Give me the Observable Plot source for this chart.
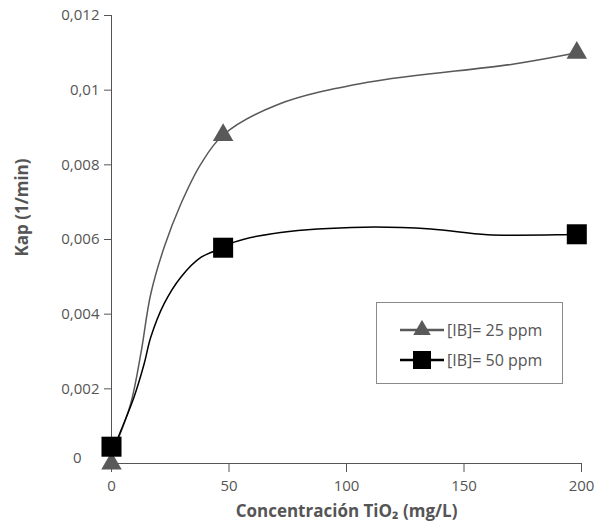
<!DOCTYPE html>
<html>
<head>
<meta charset="utf-8">
<script src="https://cdn.jsdelivr.net/npm/d3@7"></script>
<script src="https://cdn.jsdelivr.net/npm/@observablehq/plot@0.6"></script>
<style>
  html, body { margin: 0; padding: 0; background: #fff; }
  #wrap { position: relative; width: 600px; height: 525px; font-family: "Open Sans", sans-serif; }
  #wrap svg g[aria-label$="tick label"] { font-size: 15px !important; }
  #legend { position: absolute; left: 376px; top: 302px; width: 185px; height: 80px; border: 1px solid #8a8a8a; background: #fff; }
  .item { position: absolute; left: 23px; height: 20px; display: flex; align-items: center; font-family: "Open Sans", sans-serif; font-size: 16px; color: #555; }
  .item svg { display: block; margin-right: 3px; }
</style>
</head>
<body>
<div id="wrap"></div>
<script>
// ---- data ----
const seriesNames = ["[IB]= 25 ppm", "[IB]= 50 ppm"];
const seriesColors = ["#595959", "#000000"];
const xTicks = [0, 50, 100, 150, 200];
const yTicks = [0.002, 0.004, 0.006, 0.008, 0.01, 0.012];

// measured points (markers)
const pointX = [0, 47.5, 198];
const kap25 = [0, 0.0088, 0.011];
const kap50 = [0.00045, 0.00578, 0.00614];

// smoothed curve knots
const curve25X = [-1.7, 2.6, 8.2, 12.5, 16.7, 22.4, 29.5, 38, 47.5, 70.6, 109, 171.3, 198];
const curve25Y = [0, 0.00062, 0.00161, 0.00295, 0.00454, 0.00579, 0.00695, 0.00802, 0.0088, 0.00961, 0.01021, 0.0107, 0.011];
const curve50X = [-1.7, 4, 9.6, 13.9, 16.7, 22.4, 29.5, 38, 47.5, 52.2, 72, 107.5, 135.9, 160, 192.6, 198];
const curve50Y = [0, 0.00088, 0.00178, 0.00267, 0.00338, 0.00428, 0.00499, 0.00552, 0.00578, 0.00593, 0.00619, 0.00633, 0.00628, 0.00613, 0.00613, 0.00614];

const xTitle = "Concentración TiO₂ (mg/L)";
const yTitle = "Kap (1/min)";

// ---- tables ----
const pts25 = pointX.map((x, i) => ({x, y: kap25[i]}));
const pts50 = pointX.map((x, i) => ({x, y: kap50[i]}));
const line25 = curve25X.map((x, i) => ({x, y: curve25Y[i]}));
const line50 = curve50X.map((x, i) => ({x, y: curve50Y[i]}));

const fmt = d => d === 0 ? "0" : String(+d.toFixed(4)).replace(".", ",");

const chart = Plot.plot({
  width: 600,
  height: 525,
  marginLeft: 111,
  marginRight: 19,
  marginTop: 15,
  marginBottom: 62,
  style: {fontFamily: "Open Sans, sans-serif", fontSize: "15px", color: "#555", background: "#fff"},
  x: {domain: [0, 200]},
  y: {domain: [0, 0.012]},
  marks: [
    Plot.ruleX([0], {stroke: "#555", strokeWidth: 1}),
    Plot.ruleY([0], {stroke: "#555", strokeWidth: 1}),
    Plot.axisX({ticks: xTicks, tickSize: 9, tickPadding: 8, label: null, tickFormat: d => String(d), fontSize: 15}),
    Plot.axisY({ticks: yTicks, tickSize: 7, tickPadding: 5, label: null, tickFormat: fmt, fontSize: 15}),
    Plot.axisY({ticks: [0], tickSize: 0, tickPadding: 30, dy: -5, label: null, tickFormat: fmt, fontSize: 15}),
    Plot.line(line25, {x: "x", y: "y", curve: "catmull-rom", stroke: seriesColors[0], strokeWidth: 1.5}),
    Plot.line(line50, {x: "x", y: "y", curve: "catmull-rom", stroke: seriesColors[1], strokeWidth: 1.5}),
    Plot.dot(pts25, {x: "x", y: "y", symbol: "triangle", r: 7.6, fill: seriesColors[0], stroke: "none"}),
    Plot.dot(pts50, {x: "x", y: "y", symbol: "square", r: 11.3, fill: seriesColors[1], stroke: "none"}),
    Plot.text([xTitle], {frameAnchor: "bottom", dy: 53, text: d => d, fontSize: 17, fontWeight: "bold", fill: "#555"}),
    Plot.text([yTitle], {frameAnchor: "left", textAnchor: "middle", dx: -89, dy: -32, rotate: -90, text: d => d, fontSize: 17, fontWeight: "bold", fill: "#555"})
  ]
});

const wrap = document.getElementById("wrap");
wrap.appendChild(chart);

// legend
const legend = document.createElement("div");
legend.id = "legend";
const tops = [17, 47];
seriesNames.forEach((name, i) => {
  const item = document.createElement("div");
  item.className = "item";
  item.style.top = tops[i] + "px";
  const ns = "http://www.w3.org/2000/svg";
  const svg = document.createElementNS(ns, "svg");
  svg.setAttribute("width", 44);
  svg.setAttribute("height", 20);
  const ln = document.createElementNS(ns, "line");
  ln.setAttribute("x1", 0); ln.setAttribute("x2", 44);
  ln.setAttribute("y1", 10); ln.setAttribute("y2", 10);
  ln.setAttribute("stroke", seriesColors[i]); ln.setAttribute("stroke-width", 2.5);
  svg.appendChild(ln);
  const sym = document.createElementNS(ns, "path");
  sym.setAttribute("d", d3.symbol(i === 0 ? d3.symbolTriangle : d3.symbolSquare, i === 0 ? Math.PI * 6.5 * 6.5 : 18 * 18)());
  sym.setAttribute("transform", "translate(22,10)");
  sym.setAttribute("fill", seriesColors[i]);
  svg.appendChild(sym);
  item.appendChild(svg);
  const t = document.createElement("span");
  t.textContent = name;
  item.appendChild(t);
  legend.appendChild(item);
});
wrap.appendChild(legend);
</script>
</body>
</html>
